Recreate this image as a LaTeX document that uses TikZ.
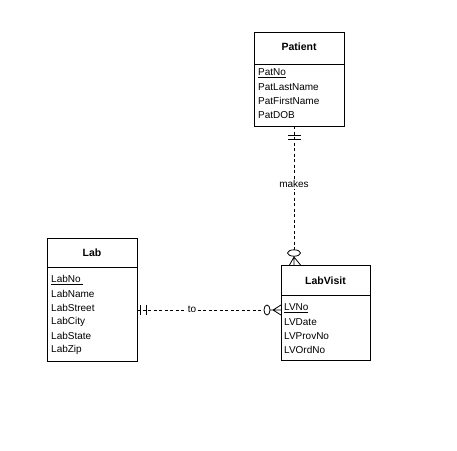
\documentclass[tikz,border=0pt]{standalone}
\usepackage{fontspec}
\setmainfont{Liberation Sans}
\begin{document}
\begin{tikzpicture}[x=1pt,y=-1pt,
  box/.style={draw,line width=0.8pt},
  attr/.style={anchor=west,inner sep=0pt,font=\fontsize{10}{12}\selectfont},
  ttl/.style={inner sep=0pt,font=\fontsize{10.5}{12}\bfseries},
  rel/.style={line width=0.8pt,dash pattern=on 3pt off 2.5pt},
  sym/.style={line width=0.8pt},
  lbl/.style={fill=white,inner sep=1pt,font=\fontsize{10}{12}\selectfont}]
\useasboundingbox (0,0) rectangle (457,450);
% Patient
\draw[box] (254,32) rectangle (344,126);
\draw[box] (254,64) -- (344,64);
\node[ttl] (pt) at (299,47) {Patient};
\node[attr] (p1) at (258,73) {\underline{PatNo}};
\node[attr] (p2) at (258,87) {PatLastName};
\node[attr] (p3) at (258,101) {PatFirstName};
\node[attr] (p4) at (258,115) {PatDOB};
% Lab
\draw[box] (47,238) rectangle (137,361);
\draw[box] (47,267) -- (137,267);
\node[ttl] (lt) at (92,253) {Lab};
\node[attr] (l1) at (51,280) {\underline{LabNo\ }};
\node[attr] (l2) at (51,294) {LabName};
\node[attr] (l3) at (51,308) {LabStreet};
\node[attr] (l4) at (51,322) {LabCity};
\node[attr] (l5) at (51,336) {LabState};
\node[attr] (l6) at (51,350) {LabZip};
% LabVisit
\draw[box] (281,265) rectangle (370,360);
\draw[box] (281,295) -- (370,295);
\node[ttl] (vt) at (325.5,281) {LabVisit};
\node[attr] (v1) at (284,308) {\underline{LVNo}};
\node[attr] (v2) at (284,322) {LVDate};
\node[attr] (v3) at (284,336) {LVProvNo};
\node[attr] (v4) at (284,350) {LVOrdNo};
% makes
\coordinate (ma) at (294,126);
\coordinate (mb) at (294,265);
\coordinate (mo) at (294,253);
\draw[rel] (ma) -- (294,249.5);
\node[lbl] (mk) at (294,184) {makes};
\draw[sym] (288,135) -- (301,135) (288,139) -- (301,139);
\draw[sym,fill=white] (mo) ellipse [x radius=6.5, y radius=3.2];
\draw[sym] (294,256.2) -- (294,265) (294,257) -- (289.5,265) (294,257) -- (300.5,265);
% to
\coordinate (ta) at (137,310);
\coordinate (tb) at (281,310);
\coordinate (to) at (267,310);
\draw[rel] (ta) -- (264,310);
\node[lbl] (tl) at (192,309) {to};
\draw[sym] (140,305) -- (140,315) (146,305) -- (146,315);
\draw[sym,fill=white] (to) ellipse [x radius=3, y radius=5];
\draw[sym] (270,310) -- (281,310) (273,310) -- (281,305) (273,310) -- (281,315);
\end{tikzpicture}
\end{document}
